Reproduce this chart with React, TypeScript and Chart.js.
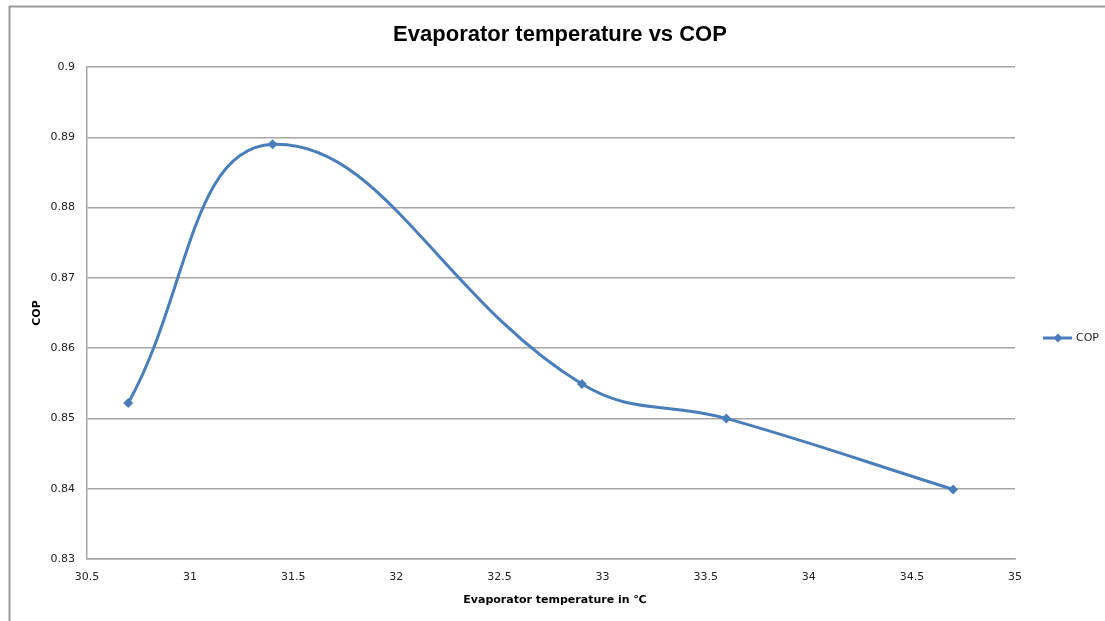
import React, { useEffect, useRef } from "react";
import { Chart, registerables } from "chart.js";

Chart.register(...registerables);

const titleText = "Evaporator temperature vs COP";
const xAxisTitle = "Evaporator temperature in ℃";
const yAxisTitle = "COP";
const seriesName = "COP";
const evapTemps = [30.7, 31.4, 32.9, 33.6, 34.7];
const copValues = [0.8522, 0.889, 0.8549, 0.85, 0.8399];

const LINE_COLOR = "#4A7EBB";
const GRID_COLOR = "#A6A6A6";
const TEXT_COLOR = "#222222";

const decorPlugin = {
  id: "decor",
  beforeDraw(chart: any) {
    const ctx = chart.ctx;
    ctx.save();
    ctx.fillStyle = "#ffffff";
    ctx.fillRect(0, 0, chart.width, chart.height);
    ctx.strokeStyle = "#9A9A9A";
    ctx.lineWidth = 2;
    ctx.beginPath();
    ctx.moveTo(9.5, chart.height + 5);
    ctx.lineTo(9.5, 6.5);
    ctx.lineTo(chart.width + 5, 6.5);
    ctx.stroke();
    ctx.restore();
  },
  afterDraw(chart: any) {
    const ctx = chart.ctx;
    const area = chart.chartArea;
    ctx.save();
    ctx.fillStyle = "#000000";
    ctx.textAlign = "center";
    ctx.textBaseline = "middle";
    ctx.font = "bold 22px 'Liberation Sans Narrow', 'Liberation Sans', sans-serif";
    ctx.fillText(titleText, 560, 35);

    ctx.font = "bold 11px 'DejaVu Sans', sans-serif";
    ctx.fillText(xAxisTitle, (area.left + area.right) / 2 + 4, 600);

    ctx.save();
    ctx.translate(37, (area.top + area.bottom) / 2);
    ctx.rotate(-Math.PI / 2);
    ctx.fillText(yAxisTitle, 0, 0);
    ctx.restore();

    // legend
    const ly = 338;
    ctx.strokeStyle = LINE_COLOR;
    ctx.lineWidth = 3;
    ctx.beginPath();
    ctx.moveTo(1043, ly);
    ctx.lineTo(1072, ly);
    ctx.stroke();
    ctx.fillStyle = LINE_COLOR;
    ctx.beginPath();
    ctx.moveTo(1058, ly - 4.5);
    ctx.lineTo(1062.5, ly);
    ctx.lineTo(1058, ly + 4.5);
    ctx.lineTo(1053.5, ly);
    ctx.closePath();
    ctx.fill();
    ctx.fillStyle = TEXT_COLOR;
    ctx.textAlign = "left";
    ctx.font = "11px 'DejaVu Sans', sans-serif";
    ctx.fillText(seriesName, 1076, ly);
    ctx.restore();
  },
};

export default function App() {
  const canvasRef = useRef<HTMLCanvasElement | null>(null);

  useEffect(() => {
    if (!canvasRef.current) return;
    const chart = new Chart(canvasRef.current, {
      type: "scatter",
      data: {
        datasets: [
          {
            label: seriesName,
            data: evapTemps.map((x, i) => ({ x, y: copValues[i] })),
            showLine: true,
            borderColor: LINE_COLOR,
            backgroundColor: LINE_COLOR,
            borderWidth: 3,
            tension: 0.42,
            pointStyle: "rectRot",
            pointRadius: 5,
            pointBorderWidth: 0,
            pointHoverRadius: 5,
          },
        ],
      },
      options: {
        animation: false,
        responsive: false,
        maintainAspectRatio: false,
        layout: { padding: { left: 0, right: 90, top: 67, bottom: 32 } },
        plugins: {
          legend: { display: false },
          title: { display: false },
          tooltip: { enabled: false },
        },
        scales: {
          x: {
            type: "linear",
            min: 30.5,
            max: 35,
            afterFit: (s: any) => {
              s.height = 30;
            },
            ticks: {
              stepSize: 0.5,
              color: TEXT_COLOR,
              font: { family: "'DejaVu Sans', sans-serif", size: 11 },
              padding: 12,
              maxRotation: 0,
              autoSkip: false,
              callback: (v: any) => String(Number(Number(v).toFixed(2))),
            },
            grid: { display: false, drawTicks: false },
            border: { display: true, color: GRID_COLOR, width: 1.5 },
          },
          y: {
            type: "linear",
            min: 0.83,
            max: 0.9,
            afterFit: (s: any) => {
              s.width = 87;
            },
            ticks: {
              stepSize: 0.01,
              color: TEXT_COLOR,
              font: { family: "'DejaVu Sans', sans-serif", size: 11 },
              padding: 12,
              callback: (v: any) => String(Number(Number(v).toFixed(2))),
            },
            grid: { color: GRID_COLOR, lineWidth: 1.5, drawTicks: false },
            border: { display: true, color: GRID_COLOR, width: 1.5 },
          },
        },
      },
      plugins: [decorPlugin],
    });
    return () => chart.destroy();
  }, []);

  return (
    <div style={{ position: "fixed", left: 0, top: 0, width: 1105, height: 621, background: "#fff" }}>
      <canvas ref={canvasRef} width={1105} height={621} style={{ width: 1105, height: 621, display: "block" }} />
    </div>
  );
}
